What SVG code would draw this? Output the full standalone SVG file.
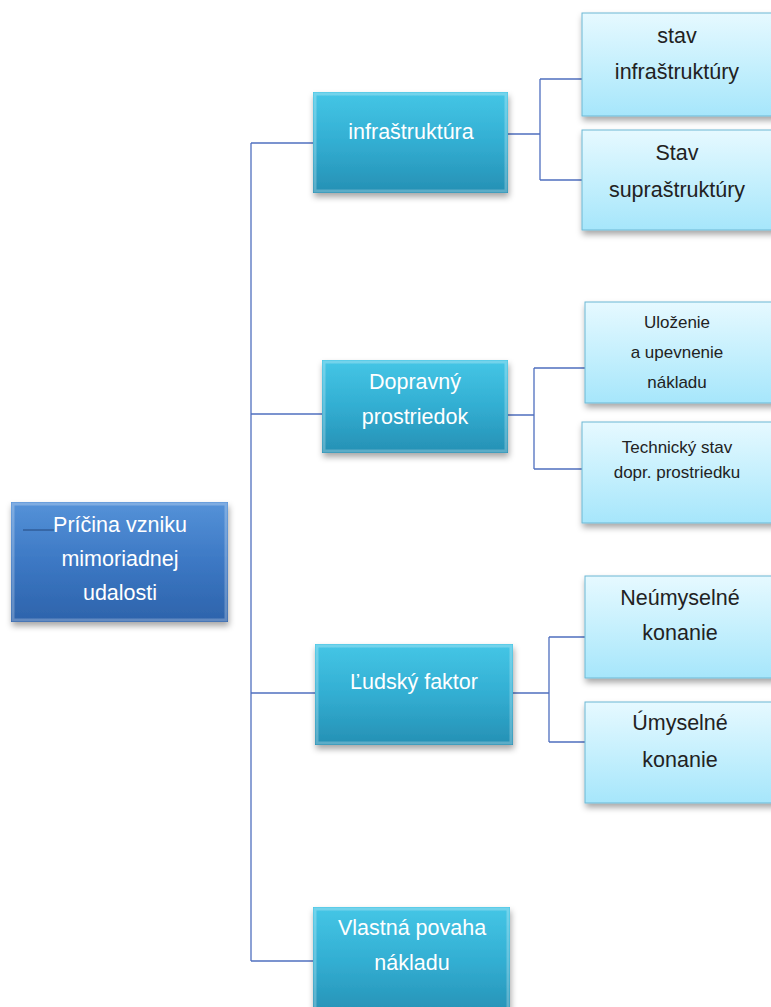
<svg xmlns="http://www.w3.org/2000/svg" width="771" height="1007" viewBox="0 0 771 1007">
<defs>
<linearGradient id="gRoot" x1="0" y1="0" x2="0" y2="1">
<stop offset="0" stop-color="#5592d8"/><stop offset="0.5" stop-color="#3c78c4"/><stop offset="1" stop-color="#2d63ab"/>
</linearGradient>
<linearGradient id="gMid" x1="0" y1="0" x2="0" y2="1">
<stop offset="0" stop-color="#45c6e6"/><stop offset="0.5" stop-color="#32aed2"/><stop offset="1" stop-color="#2690b4"/>
</linearGradient>
<linearGradient id="gLeaf" x1="0" y1="0" x2="0" y2="1">
<stop offset="0" stop-color="#e6f9ff"/><stop offset="0.5" stop-color="#c6f0fd"/><stop offset="1" stop-color="#a6e6fb"/>
</linearGradient>
<filter id="sh" x="-10%" y="-10%" width="125%" height="130%">
<feDropShadow dx="1" dy="4" stdDeviation="3" flood-color="#000" flood-opacity="0.35"/>
</filter>
</defs>
<style>
.root{fill:url(#gRoot);filter:url(#sh)}
.mid{fill:url(#gMid);filter:url(#sh)}
.leaf{fill:url(#gLeaf);stroke:#6cb8d4;stroke-width:1;filter:url(#sh)}
.bev{fill:none;stroke:#ffffff;stroke-opacity:0.25;stroke-width:3}
.tw{font-family:"Liberation Sans",Arial,sans-serif;font-size:21.5px;fill:#ffffff;text-anchor:middle}
.tl{font-family:"Liberation Sans",Arial,sans-serif;font-size:21.5px;fill:#222222;text-anchor:middle}
.ts{font-family:"Liberation Sans",Arial,sans-serif;font-size:17px;fill:#222222;text-anchor:middle}
.con{fill:none;stroke:#4f6fbf;stroke-width:1.3}
</style>
<g id="connectors">
<path class="con" d="M251 143 V961"/>
<path class="con" d="M251 143 H313"/>
<path class="con" d="M251 414 H322"/>
<path class="con" d="M251 693 H315"/>
<path class="con" d="M251 961 H313"/>
<path class="con" d="M508 134 H540 M540 79 V180 M540 79 H582 M540 180 H582"/>
<path class="con" d="M508 415 H534 M534 368 V469 M534 368 H585 M534 469 H582"/>
<path class="con" d="M513 693 H549 M549 637 V742 M549 637 H585 M549 742 H585"/>
</g>
<g id="root">
<rect class="root" x="11" y="502" width="217" height="120"/>
<rect class="bev" x="13" y="504" width="213" height="116"/>
<line x1="23" y1="530" x2="54" y2="530" stroke="#24487e" stroke-width="1"/>
<text class="tw" x="120" y="532">Príčina vzniku</text>
<text class="tw" x="120" y="566">mimoriadnej</text>
<text class="tw" x="120" y="600">udalosti</text>
</g>
<g id="infra">
<rect class="mid" x="313" y="92" width="195" height="101"/>
<rect class="bev" x="315" y="94" width="191" height="97"/>
<text class="tw" x="411" y="139">infraštruktúra</text>
</g>
<g id="doprava">
<rect class="mid" x="322" y="360" width="186" height="93"/>
<rect class="bev" x="324" y="362" width="182" height="89"/>
<text class="tw" x="415" y="389">Dopravný</text>
<text class="tw" x="415" y="424">prostriedok</text>
</g>
<g id="ludsky">
<rect class="mid" x="315" y="644" width="198" height="101"/>
<rect class="bev" x="317" y="646" width="194" height="97"/>
<text class="tw" x="414" y="689">Ľudský faktor</text>
</g>
<g id="vlastna">
<rect class="mid" x="313" y="907" width="197" height="110"/>
<rect class="bev" x="315" y="909" width="193" height="106"/>
<text class="tw" x="412" y="935">Vlastná povaha</text>
<text class="tw" x="412" y="970">nákladu</text>
</g>
<g id="stav-infra">
<rect class="leaf" x="582" y="13" width="195" height="103"/>
<text class="tl" x="677" y="43">stav</text>
<text class="tl" x="677" y="79">infraštruktúry</text>
</g>
<g id="stav-supra">
<rect class="leaf" x="582" y="130" width="195" height="100"/>
<text class="tl" x="677" y="160">Stav</text>
<text class="tl" x="677" y="197">supraštruktúry</text>
</g>
<g id="ulozenie">
<rect class="leaf" x="585" y="302" width="192" height="101"/>
<text class="ts" x="677" y="328">Uloženie</text>
<text class="ts" x="677" y="358">a upevnenie</text>
<text class="ts" x="677" y="388">nákladu</text>
</g>
<g id="technicky">
<rect class="leaf" x="582" y="422" width="195" height="101"/>
<text class="ts" x="677" y="453">Technický stav</text>
<text class="ts" x="677" y="478">dopr. prostriedku</text>
</g>
<g id="neumyselne">
<rect class="leaf" x="585" y="576" width="192" height="102"/>
<text class="tl" x="680" y="605">Neúmyselné</text>
<text class="tl" x="680" y="640">konanie</text>
</g>
<g id="umyselne">
<rect class="leaf" x="585" y="702" width="192" height="101"/>
<text class="tl" x="680" y="730">Úmyselné</text>
<text class="tl" x="680" y="767">konanie</text>
</g>
</svg>
